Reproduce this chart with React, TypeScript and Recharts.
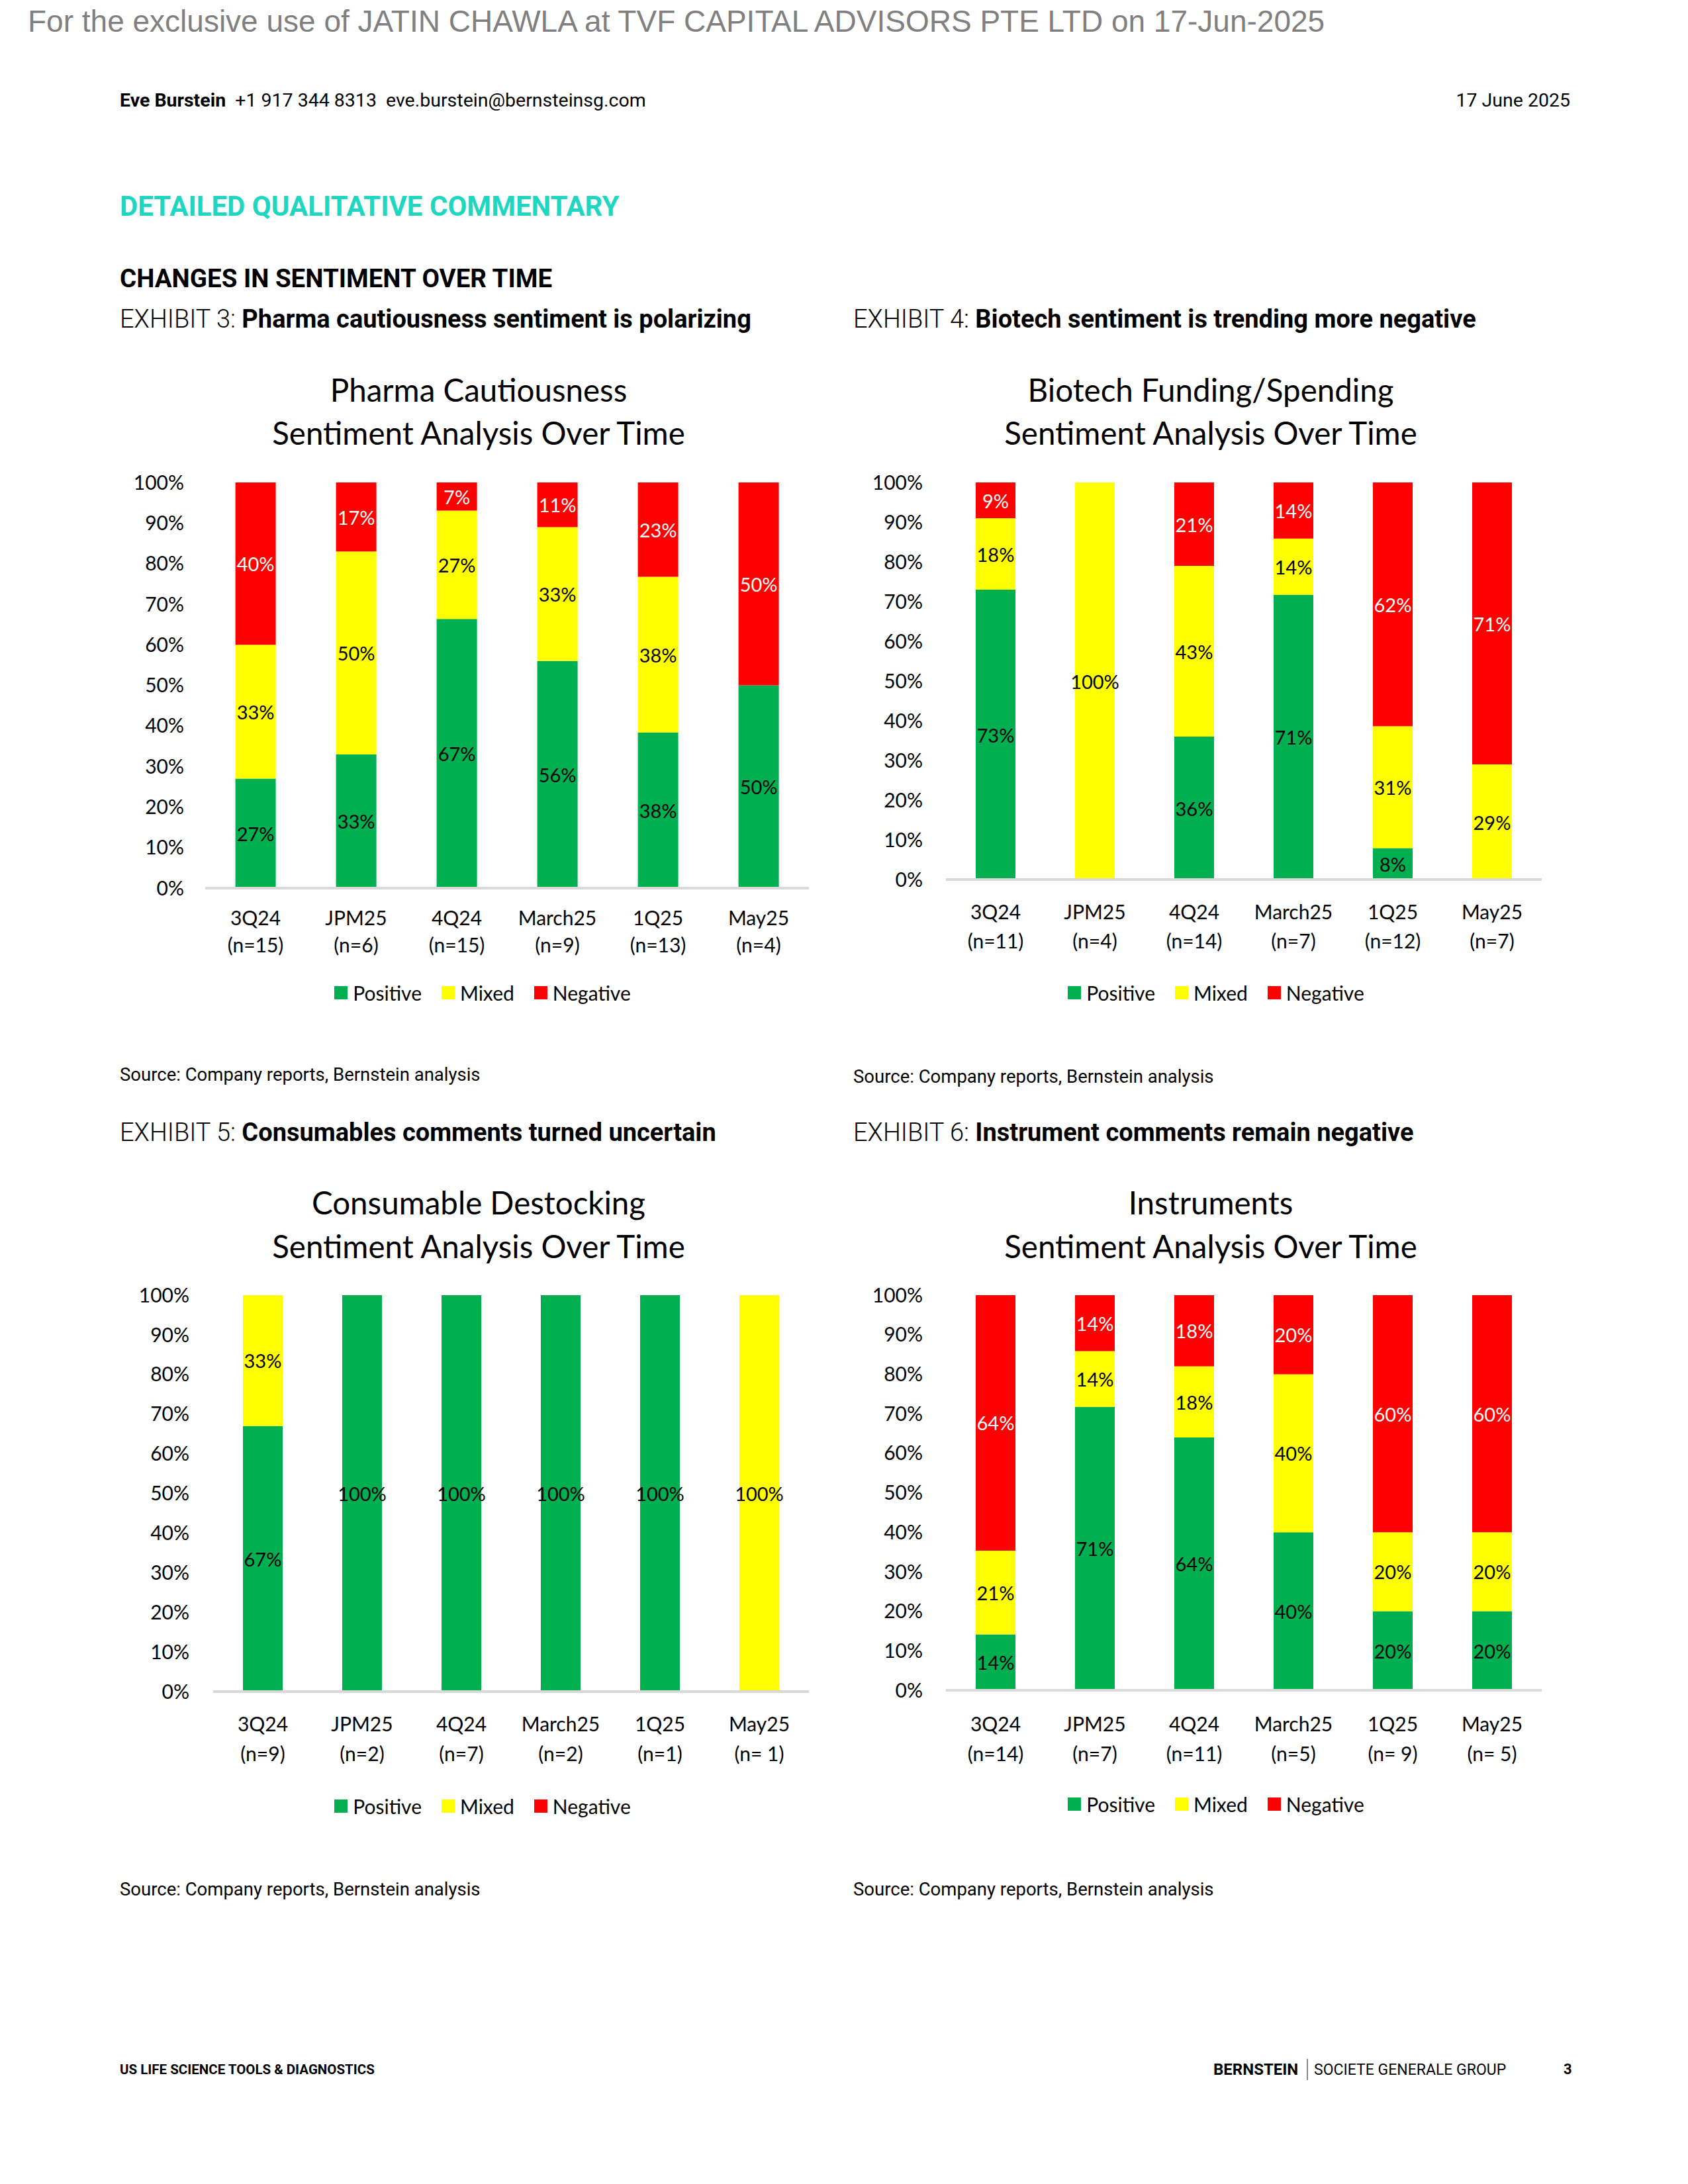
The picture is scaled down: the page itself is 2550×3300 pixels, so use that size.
import React from "react";
import { BarChart, Bar, XAxis, YAxis, Legend, LabelList } from "recharts";

// categories shared by all four exhibits
const periods = ["3Q24", "JPM25", "4Q24", "March25", "1Q25", "May25"];
const seriesNames = ["Positive", "Mixed", "Negative"];
const seriesKeys = ["positive", "mixed", "negative"];
const seriesColors = ["#00B050", "#FFFF00", "#FF0000"];
const labelColors = ["#000000", "#000000", "#FFFFFF"];
const yTicks = [0, 10, 20, 30, 40, 50, 60, 70, 80, 90, 100];

// Exhibit 3 - pharma cautiousness
const pharmaN = ["(n=15)", "(n=6)", "(n=15)", "(n=9)", "(n=13)", "(n=4)"];
const pharmaPositive = [27, 33, 67, 56, 38, 50];
const pharmaMixed = [33, 50, 27, 33, 38, 0];
const pharmaNegative = [40, 17, 7, 11, 23, 50];

// Exhibit 4 - biotech funding
const biotechN = ["(n=11)", "(n=4)", "(n=14)", "(n=7)", "(n=12)", "(n=7)"];
const biotechPositive = [73, 0, 36, 71, 8, 0];
const biotechMixed = [18, 100, 43, 14, 31, 29];
const biotechNegative = [9, 0, 21, 14, 62, 71];

// Exhibit 5 - consumable destocking
const consumN = ["(n=9)", "(n=2)", "(n=7)", "(n=2)", "(n=1)", "(n= 1)"];
const consumPositive = [67, 100, 100, 100, 100, 0];
const consumMixed = [33, 0, 0, 0, 0, 100];
const consumNegative = [0, 0, 0, 0, 0, 0];

// Exhibit 6 - instruments
const instrN = ["(n=14)", "(n=7)", "(n=11)", "(n=5)", "(n= 9)", "(n= 5)"];
const instrPositive = [14, 71, 64, 40, 20, 20];
const instrMixed = [21, 14, 18, 40, 20, 20];
const instrNegative = [64, 14, 18, 20, 60, 60];

const buildRows = (n: string[], pos: number[], mix: number[], neg: number[]) =>
  periods.map((p, i) => ({ period: p, n: n[i], positive: pos[i], mixed: mix[i], negative: neg[i] }));

const chartFont = "Lato, 'Open Sans', sans-serif";
const docFont = "Roboto, 'Liberation Sans', sans-serif";

function T({ x, y, fs, children, style = {}, right = false, font = docFont, k = 0.5 }: any) {
  const pos: any = right ? { right: 2550 - x } : { left: x };
  return (
    <div
      style={{
        position: "absolute",
        top: y - fs * k,
        ...pos,
        fontSize: fs,
        lineHeight: 1,
        whiteSpace: "nowrap",
        fontFamily: font,
        color: "#000",
        ...style,
      }}
    >
      {children}
    </div>
  );
}

function Title({ cx, y1, y2, lines }: any) {
  return (
    <>
      {lines.map((l: string, i: number) => (
        <div
          key={i}
          style={{
            position: "absolute",
            left: cx - 600,
            width: 1200,
            top: (i === 0 ? y1 : y2) - 47.5 * 0.53,
            textAlign: "center",
            fontFamily: chartFont,
            fontSize: 47.5,
            lineHeight: 1,
            color: "#000",
          }}
        >
          {l}
        </div>
      ))}
    </>
  );
}

const renderLabel = (color: string) => (props: any) => {
  const { x, y, width, height, value } = props;
  if (!value) return null;
  return (
    <text
      x={x + width / 2}
      y={y + height / 2}
      textAnchor="middle"
      dominantBaseline="central"
      fill={color}
      fontSize={29}
      fontFamily={chartFont}
    >
      {value}%
    </text>
  );
};

function SentimentChart({ rows, plot, dy, legend }: any) {
  const padL = 220;
  const padT = 20;
  const axisH = 260;
  const chartLeft = plot.left - padL;
  const chartTop = plot.top - padT;
  const W = padL + plot.width + 20;
  const H = padT + plot.height + axisH;

  const tick = (p: any) => {
    const row = rows[p.index];
    if (!row) return null;
    return (
      <g>
        <text x={p.x} y={p.y + dy[0]} textAnchor="middle" dominantBaseline="central" fontSize={30} fontFamily={chartFont} fill="#000">
          {row.period}
        </text>
        <text x={p.x} y={p.y + dy[1]} textAnchor="middle" dominantBaseline="central" fontSize={30} fontFamily={chartFont} fill="#000">
          {row.n}
        </text>
      </g>
    );
  };

  const legendContent = () => (
    <div
      style={{
        display: "flex",
        justifyContent: "center",
        alignItems: "center",
        height: 50,
        fontFamily: chartFont,
        fontSize: 30,
        color: "#000",
      }}
    >
      {seriesNames.map((s, i) => (
        <div key={s} style={{ display: "flex", alignItems: "center", marginRight: i < 2 ? 30 : 0 }}>
          <span style={{ width: 20, height: 20, background: seriesColors[i], marginRight: 8, display: "inline-block" }} />
          {s}
        </div>
      ))}
    </div>
  );

  return (
    <div style={{ position: "absolute", left: chartLeft, top: chartTop }}>
      <BarChart
        width={W}
        height={H}
        data={rows}
        stackOffset="expand"
        barCategoryGap="30%"
        margin={{ top: padT, right: 20, bottom: 0, left: 0 }}
      >
        <XAxis
          dataKey="period"
          interval={0}
          height={axisH}
          tickLine={false}
          tickSize={0}
          tickMargin={0}
          axisLine={{ stroke: "#D9D9D9", strokeWidth: 4 }}
          tick={tick}
        />
        <YAxis
          type="number"
          domain={[0, 1]}
          width={padL}
          ticks={yTicks.map((t) => t / 100)}
          tickFormatter={(v: number) => `${Math.round(v * 100)}%`}
          axisLine={false}
          tickLine={false}
          tickSize={0}
          tickMargin={plot.tickGap}
          tick={{ fontSize: 30, fontFamily: chartFont, fill: "#000" }}
          interval={0}
        />
        <Legend
          layout="horizontal"
          verticalAlign="middle"
          align="center"
          content={legendContent}
          wrapperStyle={{ left: legend.x - chartLeft - 350, width: 700, top: legend.y - chartTop - 25, height: 50 }}
        />
        {seriesKeys.map((k, i) => (
          <Bar key={k} dataKey={k} name={seriesNames[i]} stackId="s" fill={seriesColors[i]} isAnimationActive={false}>
            <LabelList dataKey={k} content={renderLabel(labelColors[i])} />
          </Bar>
        ))}
      </BarChart>
    </div>
  );
}

function Exhibit({ x, y, num, text }: any) {
  return (
    <T x={x} y={y} fs={38}>
      <span style={{ fontWeight: 300 }}>EXHIBIT {num}: </span>
      <span style={{ fontWeight: 700 }}>{text}</span>
    </T>
  );
}

export default function App() {
  const pharma = buildRows(pharmaN, pharmaPositive, pharmaMixed, pharmaNegative);
  const biotech = buildRows(biotechN, biotechPositive, biotechMixed, biotechNegative);
  const consum = buildRows(consumN, consumPositive, consumMixed, consumNegative);
  const instr = buildRows(instrN, instrPositive, instrMixed, instrNegative);

  return (
    <div style={{ position: "absolute", left: 0, top: 0, width: 2550, height: 3300, background: "#fff", overflow: "hidden" }}>
      <T x={42} y={32} fs={46} font="'Liberation Sans', Arial, sans-serif" style={{ color: "#808080" }}>
        For the exclusive use of JATIN CHAWLA at TVF CAPITAL ADVISORS PTE LTD on 17-Jun-2025
      </T>

      <T x={181} y={152} fs={28.5}>
        <span style={{ fontWeight: 700 }}>Eve Burstein</span>
        <span>{"\u00a0\u00a0"}+1 917 344 8313{"\u00a0\u00a0"}eve.burstein@bernsteinsg.com</span>
      </T>
      <T x={2372} y={152} fs={28.5} right>
        17 June 2025
      </T>

      <T x={181} y={312} fs={42} style={{ fontWeight: 700, color: "#1FD6C1" }}>
        DETAILED QUALITATIVE COMMENTARY
      </T>
      <T x={181} y={421} fs={38.5} style={{ fontWeight: 700 }}>
        CHANGES IN SENTIMENT OVER TIME
      </T>

      <Exhibit x={181} y={482} num={3} text="Pharma cautiousness sentiment is polarizing" />
      <Exhibit x={1289} y={482} num={4} text="Biotech sentiment is trending more negative" />
      <Exhibit x={181} y={1711} num={5} text="Consumables comments turned uncertain" />
      <Exhibit x={1289} y={1711} num={6} text="Instrument comments remain negative" />

      <Title cx={723} y1={590} y2={655} lines={["Pharma Cautiousness", "Sentiment Analysis Over Time"]} />
      <Title cx={1829} y1={590} y2={655} lines={["Biotech Funding/Spending", "Sentiment Analysis Over Time"]} />
      <Title cx={723} y1={1818} y2={1884} lines={["Consumable Destocking", "Sentiment Analysis Over Time"]} />
      <Title cx={1829} y1={1818} y2={1884} lines={["Instruments", "Sentiment Analysis Over Time"]} />

      <SentimentChart
        rows={pharma}
        plot={{ left: 310, top: 729, width: 912, height: 613, tickGap: 32 }}
        dy={[44, 85]}
        legend={{ x: 729, y: 1500 }}
      />
      <SentimentChart
        rows={biotech}
        plot={{ left: 1429, top: 729, width: 900, height: 600, tickGap: 35 }}
        dy={[48, 92]}
        legend={{ x: 1837, y: 1500 }}
      />
      <SentimentChart
        rows={consum}
        plot={{ left: 322, top: 1957, width: 900, height: 599, tickGap: 36 }}
        dy={[48, 93]}
        legend={{ x: 729, y: 2729 }}
      />
      <SentimentChart
        rows={instr}
        plot={{ left: 1429, top: 1957, width: 900, height: 597, tickGap: 35 }}
        dy={[50, 95]}
        legend={{ x: 1837, y: 2726 }}
      />

      <T x={181} y={1624} fs={27.5}>Source: Company reports, Bernstein analysis</T>
      <T x={1289} y={1627} fs={27.5}>Source: Company reports, Bernstein analysis</T>
      <T x={181} y={2855} fs={27.5}>Source: Company reports, Bernstein analysis</T>
      <T x={1289} y={2855} fs={27.5}>Source: Company reports, Bernstein analysis</T>

      <T x={181} y={3127} fs={20.5} style={{ fontWeight: 700 }}>
        US LIFE SCIENCE TOOLS &amp; DIAGNOSTICS
      </T>
      <T x={1833} y={3127} fs={24} style={{ fontWeight: 700 }}>
        BERNSTEIN
      </T>
      <div style={{ position: "absolute", left: 1974, top: 3111, width: 2, height: 32, background: "#888" }} />
      <T x={1985} y={3127} fs={23}>
        SOCIETE GENERALE GROUP
      </T>
      <T x={2362} y={3127} fs={22} style={{ fontWeight: 700 }}>
        3
      </T>
    </div>
  );
}
